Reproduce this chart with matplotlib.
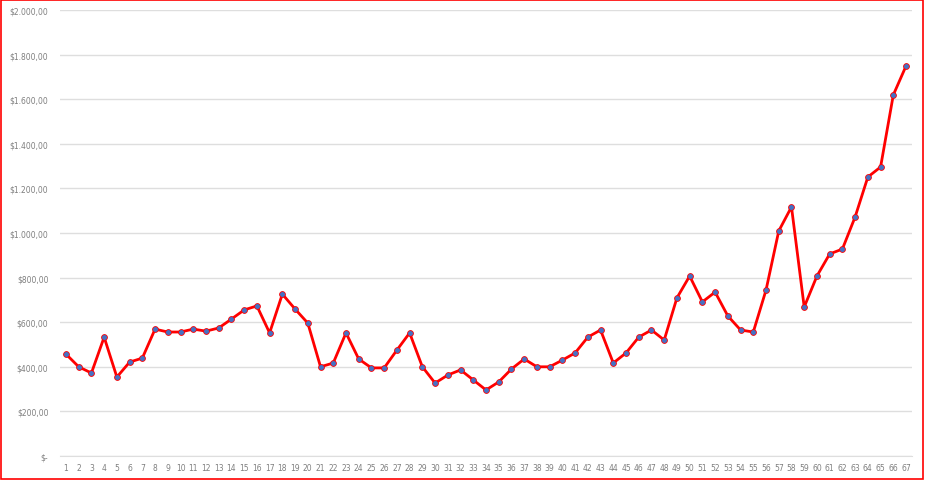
import matplotlib.pyplot as plt
from matplotlib.patches import Rectangle
from matplotlib.ticker import FuncFormatter

periods = list(range(1, 68))
values = [457, 400, 372, 533, 354, 421, 439, 569, 556, 556,
          569, 560, 574, 614, 655, 673, 552, 726, 659, 596,
          400, 417, 552, 435, 395, 395, 475, 552, 400, 327,
          363, 386, 341, 296, 332, 390, 435, 400, 400, 430,
          462, 533, 565, 417, 462, 533, 565, 520, 709, 807,
          691, 735, 628, 565, 556, 744, 1009, 1117, 668, 807,
          906, 928, 1072, 1251, 1296, 1619, 1749]


def money(v, pos):
    if v == 0:
        return "$-"
    s = f"{v:,.2f}".replace(",", "X").replace(".", ",").replace("X", ".")
    return "$" + s


fig = plt.figure(figsize=(9.26, 4.81), dpi=100)
ax = fig.add_axes([59.6 / 926, 24 / 481, (912.4 - 59.6) / 926, 446 / 481])

ax.plot(periods, values, color="#ff0000", lw=2, marker="o", ms=4.2,
        markerfacecolor="#4472c4", markeredgecolor="#ff0000", markeredgewidth=0.6,
        zorder=3)

ax.set_xlim(0.5, 67.5)
ax.set_ylim(0, 2000)
ax.set_yticks(range(0, 2001, 200))
ax.yaxis.set_major_formatter(FuncFormatter(money))
ax.set_xticks(periods)
ax.set_xticklabels([str(p) for p in periods])
ax.grid(axis="y", color="#dedede", lw=1)
ax.set_axisbelow(True)
for side in ["top", "right", "left"]:
    ax.spines[side].set_visible(False)
ax.spines["bottom"].set_color("#dedede")
ax.tick_params(axis="both", length=0, labelsize=5.5, labelcolor="#7f7f7f")
ax.tick_params(axis="y", pad=8)
ax.tick_params(axis="x", pad=5)

fig.patches.append(Rectangle((0.001, 0.003), 0.996, 0.994, transform=fig.transFigure,
                             fill=False, edgecolor="#ff0000", lw=1.2))

fig.savefig("out.png", dpi=100)
